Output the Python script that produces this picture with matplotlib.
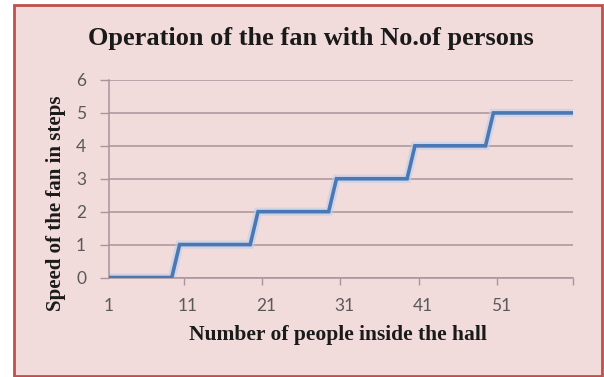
import numpy as np
import matplotlib
matplotlib.use('Agg')
import matplotlib.pyplot as plt
from matplotlib.patches import Rectangle

# ------------------------------------------------------------
#  Data
# ------------------------------------------------------------
people = np.arange(1, 61)          # category axis 1..60
speed = [0, 0, 0, 0, 0, 0, 0, 0, 0,
         1, 1, 1, 1, 1, 1, 1, 1, 1, 1,
         2, 2, 2, 2, 2, 2, 2, 2, 2, 2,
         3, 3, 3, 3, 3, 3, 3, 3, 3, 3,
         4, 4, 4, 4, 4, 4, 4, 4, 4, 4,
         5, 5, 5, 5, 5, 5, 5, 5, 5, 5, 5]
xtick_labels = ['1', '11', '21', '31', '41', '51']
ytick_labels = ['0', '1', '2', '3', '4', '5', '6']

title = 'Operation of the fan with No.of persons'
xlabel = 'Number of people inside the hall'
ylabel = 'Speed of the fan in steps'

# ------------------------------------------------------------
#  Styling
# ------------------------------------------------------------
W, H = 604, 377
bg = '#f2dcdb'
border = '#c0504d'
grid_c = '#a8949a'
line_c = '#4a78b4'
tick_c = '#595959'
serif = ['Liberation Serif', 'DejaVu Serif']
sans = ['Lato', 'DejaVu Sans']

fig = plt.figure(figsize=(W / 100, H / 100), dpi=100)
fig.patch.set_facecolor('white')

# chart area frame
fig.patches.append(Rectangle((14 / W, 1 - 376 / H), (602 - 14) / W, (376 - 5) / H,
                             transform=fig.transFigure, facecolor=bg,
                             edgecolor=border, linewidth=2.0, zorder=-1))

ax = fig.add_axes([109 / W, 1 - 277.5 / H, (573 - 109) / W, (277.5 - 80) / H])
ax.set_facecolor('none')
ax.set_zorder(1)

# soft halo + series line
ax.plot(people, speed, color='#bcd0ec', lw=6, alpha=0.6,
        solid_joinstyle='miter', zorder=2)
ax.plot(people, speed, color=line_c, lw=2.6, solid_joinstyle='miter', zorder=3)

ax.set_xlim(1, 60.15)
ax.set_ylim(0, 6)

# y axis
ax.set_yticks(range(7))
ax.set_yticklabels(ytick_labels)
ax.yaxis.grid(True, color=grid_c, lw=1.1)
ax.set_axisbelow(True)
ax.tick_params(axis='y', length=6.5, width=1.0, color=grid_c, pad=10,
               labelsize=12.5, labelcolor=tick_c)

# x axis: labels on categories, tick marks between them
ax.set_xticks([int(t) for t in xtick_labels])
ax.set_xticklabels(xtick_labels)
ax.set_xticks([10.5, 20.5, 30.5, 40.5, 50.5, 60.15], minor=True)
ax.tick_params(axis='x', which='major', length=0, pad=15,
               labelsize=12.5, labelcolor=tick_c)
ax.tick_params(axis='x', which='minor', length=5, width=1.0, color=grid_c)

for s in ['top', 'right']:
    ax.spines[s].set_visible(False)
for s in ['left', 'bottom']:
    ax.spines[s].set_color(grid_c)
    ax.spines[s].set_linewidth(1.1)

for lab in ax.get_xticklabels() + ax.get_yticklabels():
    lab.set_family(sans)

# texts
fig.text(311 / W, 1 - 39 / H, title, ha='center', va='center',
         family=serif, fontweight='bold', fontsize=19, color='#1a1a1a')
fig.text(338 / W, 1 - 335 / H, xlabel, ha='center', va='center',
         family=serif, fontweight='bold', fontsize=15.5, color='#1a1a1a')
fig.text(56 / W, 1 - 203 / H, ylabel, ha='center', va='center', rotation=90,
         family=serif, fontweight='bold', fontsize=15, color='#1a1a1a')

fig.savefig('out.png', dpi=100)
